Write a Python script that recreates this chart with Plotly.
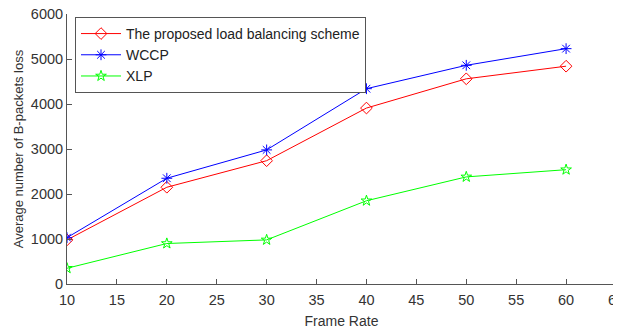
import plotly.graph_objects as go

frame_rate = [10, 20, 30, 40, 50, 60]
proposed = [980, 2150, 2740, 3910, 4560, 4840]
wccp = [1030, 2350, 2980, 4340, 4860, 5230]
xlp = [350, 900, 980, 1850, 2380, 2540]

names = ["The proposed load balancing scheme", "WCCP", "XLP"]
colors = ["#ff0000", "#0000ff", "#00ff00"]
symbols = ["diamond-open", "asterisk-open", "star-open"]
sizes = [9, 9, 8]

fig = go.Figure()
for vals, name, col, sym, sz in zip([proposed, wccp, xlp], names, colors, symbols, sizes):
    fig.add_trace(go.Scatter(
        x=frame_rate, y=vals, name=name, mode="lines+markers",
        line=dict(color=col, width=1),
        marker=dict(symbol=sym, size=sz, color=col, line=dict(color=col, width=1)),
    ))

axis_col = "#555555"
fig.update_layout(
    width=621, height=329,
    margin=dict(l=59, r=13, t=6, b=53),
    paper_bgcolor="white", plot_bgcolor="white",
    font=dict(family="Liberation Sans, Arial, sans-serif", size=13, color="#333333"),
    showlegend=True,
    legend=dict(
        x=0.0146, y=0.989, xanchor="left", yanchor="top",
        bgcolor="white", bordercolor=axis_col, borderwidth=1,
        font=dict(size=14, color="#222222"),
        tracegroupgap=0, itemwidth=40,
    ),
)
fig.update_xaxes(
    range=[10, 65], tickmode="array", tickvals=list(range(10, 66, 5)),
    showgrid=False, zeroline=False, showline=True, linecolor=axis_col, linewidth=1,
    ticks="inside", ticklen=5, tickcolor=axis_col, automargin=False,
    ticklabeloverflow="allow", ticklabelstandoff=3,
    title=dict(text="Frame Rate", standoff=8, font=dict(size=14)),
    tickfont=dict(size=14.5, color="#333333"),
)
fig.update_yaxes(
    range=[0, 6000], tickmode="array", tickvals=list(range(0, 6001, 1000)),
    showgrid=False, zeroline=False, showline=True, linecolor=axis_col, linewidth=1,
    ticks="inside", ticklen=5, tickcolor=axis_col, automargin=False,
    ticklabeloverflow="allow",
    title=dict(text="Average number of B-packets loss", standoff=4, font=dict(size=13)),
    tickfont=dict(size=14.5, color="#333333"),
)

fig.write_html("out.html")
